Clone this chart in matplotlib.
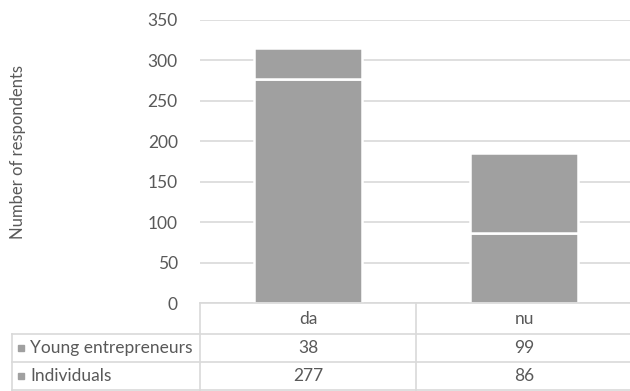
import matplotlib
matplotlib.use("Agg")
import matplotlib.pyplot as plt
from matplotlib.patches import Rectangle

categories = ["da", "nu"]
series_names = ["Young entrepreneurs", "Individuals"]
young = [38, 99]
individuals = [277, 86]
yticks = [0, 50, 100, 150, 200, 250, 300, 350]

W, H = 630, 391
BAR = "#a0a0a0"
GRID = "#d9d9d9"
TXT = "#595959"

plt.rcParams["font.family"] = ["Lato", "DejaVu Sans"]

fig = plt.figure(figsize=(W / 100, H / 100), dpi=100)

# plot area in pixels
px0, px1 = 200, 632
py_top, py_base = 20, 303
ax = fig.add_axes([px0 / W, 1 - py_base / H, (px1 - px0) / W, (py_base - py_top) / H])

x = list(range(len(categories)))
ax.bar(x, individuals, width=0.5, color=BAR, edgecolor="white", linewidth=1.8, zorder=3)
ax.bar(x, young, width=0.5, bottom=individuals, color=BAR, edgecolor="white", linewidth=1.8, zorder=3)

ax.set_xlim(-0.5, len(categories) - 0.5)
ax.set_ylim(0, 350)
ax.set_yticks(yticks)
ax.set_xticks([])
ax.yaxis.grid(True, color=GRID, linewidth=1.2, zorder=0)
for s in ax.spines.values():
    s.set_visible(False)
ax.tick_params(axis="y", length=0, pad=16, labelsize=12.5, labelcolor=TXT)
fig.text(18 / W, 1 - 152 / H, "Number of respondents", rotation=90,
         ha="center", va="center", fontsize=12, color=TXT)

# data table below the chart, in pixel coordinates
tab = fig.add_axes([0, 0, 1, 1])
tab.set_xlim(0, W)
tab.set_ylim(H, 0)
tab.axis("off")

col_edges = [px0 + i * (px1 - px0) / len(categories) for i in range(len(categories) + 1)]
row_edges = [303, 334, 362, 390]
lx = 12
lw = 1.2

# header row
tab.plot([px0, px1], [row_edges[0]] * 2, color=GRID, lw=lw)
for cx in col_edges:
    tab.plot([cx, cx], [row_edges[0], row_edges[-1]], color=GRID, lw=lw)
for r in row_edges[1:]:
    tab.plot([lx, px1], [r, r], color=GRID, lw=lw)
tab.plot([lx, lx], [row_edges[1], row_edges[-1]], color=GRID, lw=lw)

for i, c in enumerate(categories):
    cx = (col_edges[i] + col_edges[i + 1]) / 2
    tab.text(cx, (row_edges[0] + row_edges[1]) / 2, c, ha="center", va="center",
             fontsize=12.5, color=TXT)

rows = [young, individuals]
for j, (name, vals) in enumerate(zip(series_names, rows)):
    cy = (row_edges[j + 1] + row_edges[j + 2]) / 2
    tab.add_patch(Rectangle((18, cy - 3), 5.5, 5.5, color=BAR))
    tab.text(30, cy, name, ha="left", va="center", fontsize=12.5, color=TXT)
    for i, v in enumerate(vals):
        cx = (col_edges[i] + col_edges[i + 1]) / 2
        tab.text(cx, cy, str(v), ha="center", va="center", fontsize=12.5, color=TXT)

fig.savefig("out.png", dpi=100)
